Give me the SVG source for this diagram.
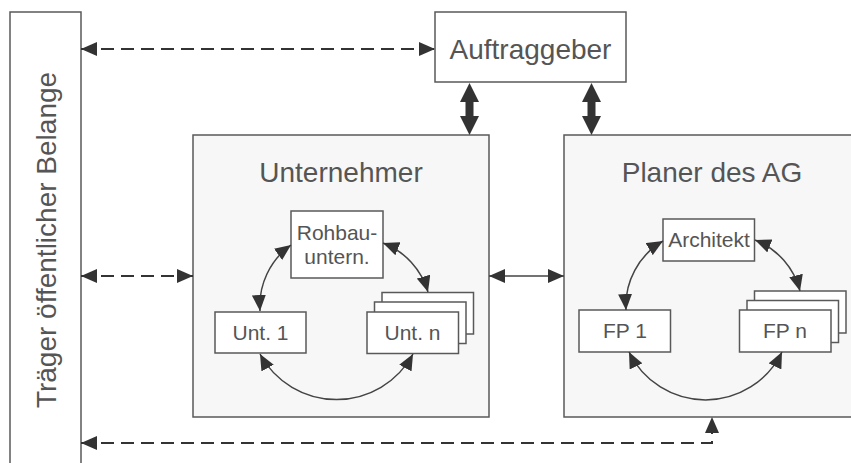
<svg xmlns="http://www.w3.org/2000/svg" width="851" height="463" viewBox="0 0 851 463">
  <defs>
    <style>
      .box { fill: #ffffff; stroke: #595959; stroke-width: 1.5; }
      .panel { fill: #f7f7f7; stroke: #595959; stroke-width: 1.5; }
      .big { font-family: "Liberation Sans", Arial, sans-serif; font-size: 28px; fill: #555555; text-anchor: middle; }
      .small { font-family: "Liberation Sans", Arial, sans-serif; font-size: 21px; fill: #555555; text-anchor: middle; }
      .dash { fill: none; stroke: #333333; stroke-width: 2; stroke-dasharray: 13 7; }
      .solid { fill: none; stroke: #444444; stroke-width: 1.5; }
      .thick { fill: #333333; }
    </style>
    <marker id="head" markerUnits="userSpaceOnUse" markerWidth="16" markerHeight="14" refX="16" refY="7" orient="auto-start-reverse" viewBox="0 0 16 14">
      <path d="M0,0 L16,7 L0,14 z" fill="#333333"/>
    </marker>
    <!-- heavy two-way arrow, 52 px long, tip at y=0 -->
    <path id="fatArrow" d="M0,0 L9.5,19 L4,19 L4,33 L9.5,33 L0,52 L-9.5,33 L-4,33 L-4,19 L-9.5,19 z"/>
  </defs>

  <!-- side bar -->
  <g id="traeger">
    <rect class="box" x="10" y="12" width="71" height="470"/>
    <text class="big" transform="translate(56,240) rotate(-90)">Träger öffentlicher Belange</text>
  </g>

  <g id="auftraggeber">
    <rect class="box" x="435" y="12" width="191" height="70"/>
    <text class="big" x="530.5" y="59">Auftraggeber</text>
  </g>

  <g id="unternehmer">
    <rect class="panel" x="193" y="135" width="296" height="282"/>
    <text class="big" x="341" y="182">Unternehmer</text>
  </g>

  <g id="planer">
    <rect class="panel" x="564" y="135" width="300" height="282"/>
    <text class="big" x="712" y="182">Planer des AG</text>
  </g>

  <g id="rohbau">
    <rect class="box" x="291" y="211" width="92" height="67"/>
    <text class="small" x="337" y="240">Rohbau-</text>
    <text class="small" x="337" y="264">untern.</text>
  </g>

  <g id="unt1">
    <rect class="box" x="215" y="312" width="91" height="41"/>
    <text class="small" x="260.5" y="340">Unt. 1</text>
  </g>

  <g id="untn">
    <rect class="box" x="382" y="292.5" width="91.5" height="41.5"/>
    <rect class="box" x="374.5" y="302" width="91.5" height="41.5"/>
    <rect class="box" x="367" y="312" width="91.5" height="41.5"/>
    <text class="small" x="412.5" y="340">Unt. n</text>
  </g>

  <g id="architekt">
    <rect class="box" x="663" y="219" width="91.5" height="42"/>
    <text class="small" x="709" y="247">Architekt</text>
  </g>

  <g id="fp1">
    <rect class="box" x="579" y="310" width="91.5" height="42"/>
    <text class="small" x="625" y="338">FP 1</text>
  </g>

  <g id="fpn">
    <rect class="box" x="754.5" y="291" width="91.5" height="42"/>
    <rect class="box" x="747" y="300.5" width="91.5" height="42"/>
    <rect class="box" x="739.5" y="310" width="91.5" height="42"/>
    <text class="small" x="785" y="338">FP n</text>
  </g>

  <g id="connectors">
    <!-- dashed links to the side bar -->
    <line class="dash" x1="81" y1="49" x2="435" y2="49" marker-start="url(#head)" marker-end="url(#head)"/>
    <line class="dash" x1="81" y1="276" x2="193" y2="276" marker-start="url(#head)" marker-end="url(#head)"/>
    <polyline class="dash" points="81,443 712,443 712,417" marker-start="url(#head)" marker-end="url(#head)"/>

    <!-- client to contractor / planner -->
    <use href="#fatArrow" class="thick" x="469.5" y="83"/>
    <use href="#fatArrow" class="thick" x="591.5" y="83"/>

    <!-- contractor to planner -->
    <line class="solid" x1="489" y1="276" x2="564" y2="276" marker-start="url(#head)" marker-end="url(#head)"/>

    <!-- cycle inside Unternehmer -->
    <path class="solid" d="M291,245 A75,75 0 0 0 260,311" marker-start="url(#head)" marker-end="url(#head)"/>
    <path class="solid" d="M383,243 A75,75 0 0 1 428,292" marker-start="url(#head)" marker-end="url(#head)"/>
    <path class="solid" d="M260,354 A87,87 0 0 0 413,354" marker-start="url(#head)" marker-end="url(#head)"/>

    <!-- cycle inside Planer -->
    <path class="solid" d="M663,241 A75,75 0 0 0 626,310" marker-start="url(#head)" marker-end="url(#head)"/>
    <path class="solid" d="M755,240 A75,75 0 0 1 800,291" marker-start="url(#head)" marker-end="url(#head)"/>
    <path class="solid" d="M629,352 A85,85 0 0 0 782,352" marker-start="url(#head)" marker-end="url(#head)"/>
  </g>
</svg>
